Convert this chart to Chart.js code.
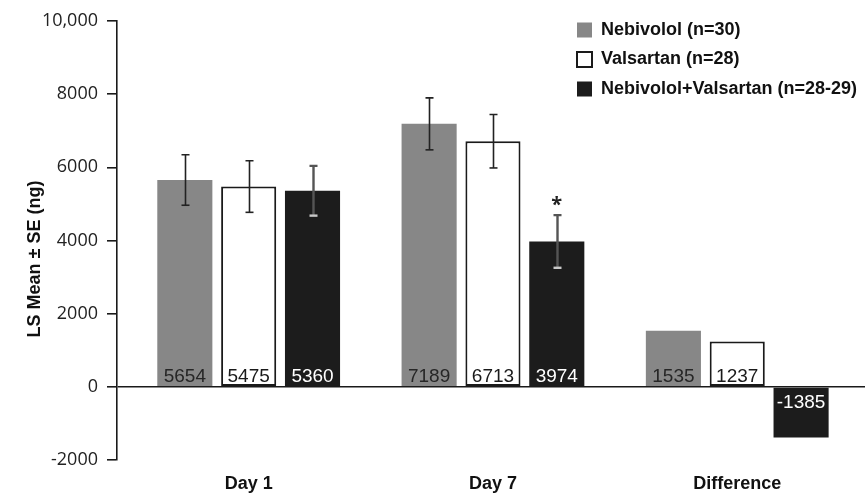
<!DOCTYPE html>
<html><head><meta charset="utf-8">
<script src="https://cdn.jsdelivr.net/npm/chart.js@4.4.1/dist/chart.umd.min.js"></script>
<style>html,body{margin:0;padding:0;background:#fff;overflow:hidden}</style>
</head><body>
<canvas id="c" width="865" height="494"></canvas>
<script>
// ---- data ----
const categories = ['Day 1', 'Day 7', 'Difference'];
const seriesNames = ['Nebivolol (n=30)', 'Valsartan (n=28)', 'Nebivolol+Valsartan (n=28-29)'];
const nebivolol = [5654, 7189, 1535];
const valsartan = [5475, 6713, 1237];
const combination = [5360, 3974, -1385];
const nebivololSE = [690, 711, null];
const valsartanSE = [705, 730, null];
const combinationSE = [680, 720, null];
const combinationMarks = ['', '*', ''];
const yTickValues = [-2000, 0, 2000, 4000, 6000, 8000, 10000];
const yTickLabels = ['-2000', '0', '2000', '4000', '6000', '8000', '10,000'];
const yAxisTitle = 'LS Mean \u00b1 SE (ng)';

const SANS = '"Liberation Sans", Arial, sans-serif';
const REG = '"Open Sans", "Noto Sans", sans-serif';
const INK = '#1a1a1a';

const seriesValues = [nebivolol, valsartan, combination];
const seriesSE = [nebivololSE, valsartanSE, combinationSE];
const seriesMarks = [['', '', ''], ['', '', ''], combinationMarks];
const fills = ['#878787', '#ffffff', '#1c1c1c'];
const borders = ['#878787', INK, '#1c1c1c'];
const borderWidths = [0, 2, 0];
const labelColors = ['#262626', '#1a1a1a', '#ffffff'];

const datasets = seriesNames.map((name, d) => ({
  label: name,
  data: categories.map((c, i) => ({ x: i, y: seriesValues[d][i] })),
  backgroundColor: fills[d],
  borderColor: borders[d],
  borderWidth: borderWidths[d],
  borderSkipped: false,
  barPercentage: 0.863,
  categoryPercentage: 0.784
}));

const overlay = {
  id: 'overlay',
  afterLayout(chart) {
    const lg = chart.legend;
    if (lg) {
      lg.left = 565.5; lg.right = lg.left + lg.width;
      lg.top = 9.5; lg.bottom = lg.top + lg.height;
    }
  },
  afterDatasetsDraw(chart) {
    const ctx = chart.ctx;
    const y = chart.scales.y;
    const zero = y.getPixelForValue(0);
    ctx.save();
    seriesNames.forEach((n, d) => {
      const meta = chart.getDatasetMeta(d);
      meta.data.forEach((bar, i) => {
        const v = seriesValues[d][i];
        const se = seriesSE[d][i];
        if (se != null) {
          const top = y.getPixelForValue(v + se);
          const bot = y.getPixelForValue(v - se);
          const x = Math.round(bar.x) + 0.5;
          const inside = d === 2;
          ctx.lineWidth = inside ? 2.4 : 1.6;
          ctx.strokeStyle = inside ? '#555' : '#222';
          ctx.beginPath();
          ctx.moveTo(x, top); ctx.lineTo(x, bot);
          ctx.moveTo(x - 4, top); ctx.lineTo(x + 4, top);
          ctx.stroke();
          ctx.strokeStyle = inside ? '#c8c8c8' : '#222';
          ctx.beginPath();
          ctx.moveTo(x - 4, bot); ctx.lineTo(x + 4, bot);
          ctx.stroke();
          const mark = seriesMarks[d][i];
          if (mark) {
            ctx.fillStyle = '#222';
            ctx.font = 'bold 20px ' + REG;
            ctx.textAlign = 'center';
            ctx.textBaseline = 'alphabetic';
            ctx.fillText(mark, bar.x, top - 4);
          }
        }
        ctx.fillStyle = labelColors[d];
        ctx.font = '19px ' + SANS;
        ctx.textAlign = 'center';
        ctx.textBaseline = 'alphabetic';
        const ty = v >= 0 ? zero - 5 : zero + 21;
        ctx.fillText(String(v), bar.x, ty);
      });
    });
    ctx.translate(35, 259);
    ctx.rotate(-Math.PI / 2);
    ctx.fillStyle = '#111';
    ctx.font = 'bold 18px ' + SANS;
    ctx.textAlign = 'center';
    ctx.textBaseline = 'middle';
    ctx.fillText(yAxisTitle, 0, 0);
    ctx.restore();
  }
};

new Chart(document.getElementById('c'), {
  type: 'bar',
  data: { datasets },
  plugins: [overlay],
  options: {
    responsive: false,
    animation: false,
    layout: { padding: { left: 0, top: 21, right: 0, bottom: 0 } },
    plugins: {
      tooltip: { enabled: false },
      legend: {
        position: 'chartArea',
        align: 'start',
        labels: {
          boxWidth: 15, boxHeight: 15, padding: 11.5,
          color: '#111',
          font: { family: SANS, size: 18, weight: 'bold' }
        }
      }
    },
    scales: {
      x: {
        type: 'linear',
        offset: false,
        min: -0.539, max: 2.523,
        grid: { display: false, drawTicks: false, offset: false },
        border: { display: false },
        afterFit: s => { s.height = 34; },
        afterBuildTicks: s => { s.ticks = categories.map((c, i) => ({ value: i })); },
        ticks: {
          padding: 13,
          color: '#111',
          font: { family: SANS, size: 18, weight: 'bold' },
          callback: v => categories[v]
        }
      },
      y: {
        min: -2000, max: 10000,
        afterFit: s => { s.width = 117; },
        afterBuildTicks: s => { s.ticks = yTickValues.map(v => ({ value: v })); },
        border: { display: true, color: INK, width: 1.6 },
        grid: {
          drawOnChartArea: true,
          color: c => (c.tick && c.tick.value === 0) ? INK : 'rgba(0,0,0,0)',
          lineWidth: 1.6,
          tickColor: INK,
          tickLength: 10
        },
        ticks: {
          padding: 9,
          color: '#222',
          font: { family: REG, size: 18 },
          callback: v => yTickLabels[yTickValues.indexOf(v)]
        }
      }
    }
  }
});
</script>
</body></html>
